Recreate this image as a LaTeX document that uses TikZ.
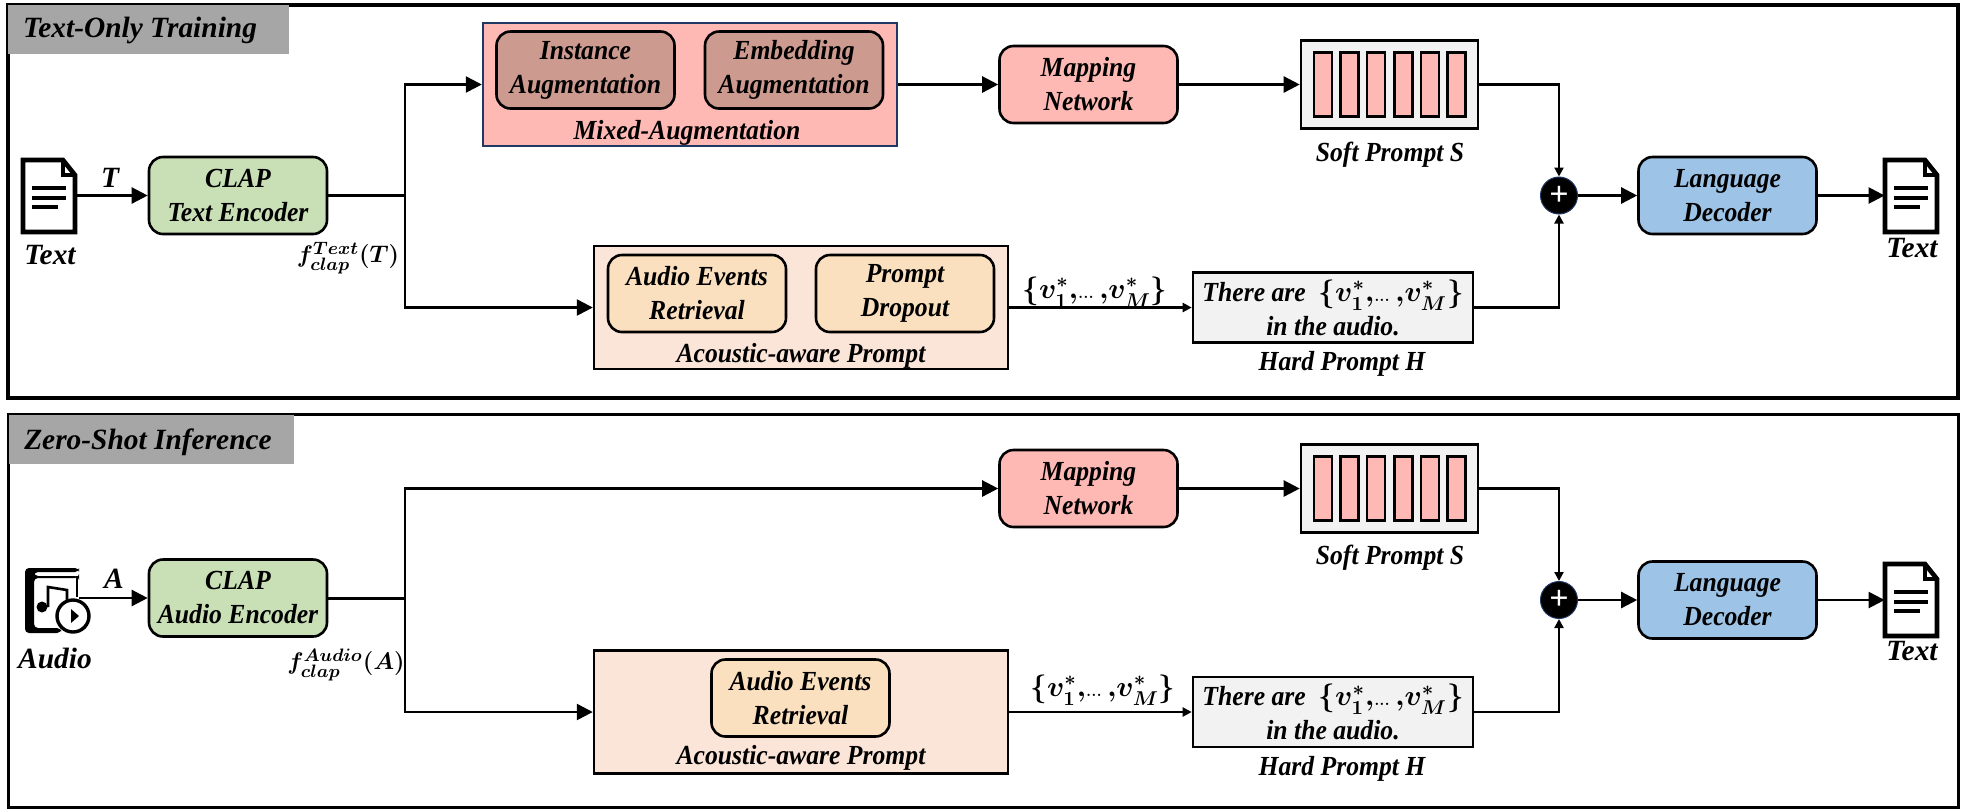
\documentclass[tikz,border=0pt]{standalone}
\usepackage{amsmath}
\usepackage{amssymb}
\usepackage{fontspec}
\setmainfont{Liberation Serif}
\newfontfamily\narrowserif{Liberation Serif}[FakeStretch=0.93]
\usepackage{tikz}
\usetikzlibrary{arrows.meta}
\definecolor{panelgray}{HTML}{A6A6A6}
\definecolor{clapgreen}{HTML}{C9E0B7}
\definecolor{mappink}{HTML}{FFB9B5}
\definecolor{augbrown}{HTML}{CC9A8E}
\definecolor{deepnavy}{HTML}{1F3864}
\definecolor{promptpeach}{HTML}{FBE5D8}
\definecolor{eventorange}{HTML}{FBE0BF}
\definecolor{softgray}{HTML}{F2F2F2}
\definecolor{decoderblue}{HTML}{9DC3E6}
\newcommand{\vset}{\{v_1^*,\!{\scriptscriptstyle\ldots}\,,\!v_M^*\}}

\begin{document}
\begin{tikzpicture}
[x=0.5pt,y=-0.5pt,
 lab/.style={font=\fontsize{13.8}{17}\narrowserif\selectfont\bfseries\itshape\boldmath,align=center,inner sep=0pt},
 flab/.style={lab,font=\fontsize{12.4}{15}\selectfont\bfseries\itshape\boldmath},
 titletext/.style={lab,font=\fontsize{14.7}{17}\selectfont\bfseries\itshape},
 panel/.style={draw=black,line width=1.7pt,minimum width=975pt,minimum height=196.5pt,inner sep=0pt},
 titlebox/.style={fill=panelgray,minimum height=24.5pt,inner sep=0pt},
 block/.style={lab,draw=black,line width=1.3pt,rounded corners=7pt,minimum width=89pt,minimum height=38.5pt},
 mapbox/.style={block,fill=mappink},
 clapbox/.style={block,fill=clapgreen},
 decbox/.style={block,fill=decoderblue},
 augbox/.style={block,fill=augbrown},
 eventbox/.style={block,fill=eventorange},
 groupbox/.style={draw=black,line width=1.2pt,minimum width=207pt,minimum height=61.5pt,inner sep=0pt},
 softbox/.style={draw=black,line width=1.3pt,fill=softgray,minimum width=88.5pt,minimum height=44pt,inner sep=0pt},
 hardbox/.style={lab,draw=black,line width=1.3pt,fill=softgray,minimum width=140pt,minimum height=35pt},
 bar/.style={draw=black,line width=1.2pt,fill=mappink,minimum width=9pt,minimum height=32pt,inner sep=0pt},
 plusnode/.style={circle,fill=black,draw=deepnavy,line width=0.5pt,minimum size=18.5pt,inner sep=0pt,
   text=white,font=\fontsize{17}{17}\selectfont\bfseries},
 iconbox/.style={minimum width=26pt,minimum height=36pt,inner sep=0pt},
 wire/.style={line width=1.2pt,-{Triangle[length=8pt,width=8pt]}},
 thinwire/.style={line width=1.1pt,-{Triangle[length=4.5pt,width=4.5pt]}},
 docicon/.pic={
   \draw[line width=2.3pt,fill=white,miter limit=2] (0,0) -- (40,0) -- (52,15) -- (52,72) -- (0,72) -- cycle;
   \draw[line width=1.6pt] (40,0) -- (40,15) -- (52,15);
   \draw[line width=2pt] (9,28) -- (43,28);
   \draw[line width=2pt] (9,38) -- (43,38);
   \draw[line width=2pt] (9,47) -- (35,47);
 },
 audioicon/.pic={
   \fill[rounded corners=2pt] (0,1) -- (54,1) -- (54,5) -- (9,5) -- (9,9) -- (54,9) -- (54,11) -- (9,11) -- (9,61) -- (36,61) -- (36,66) -- (0,66) -- cycle;
   \draw[line width=1.2pt] (52,9) -- (52,30);
   \fill (17,40) circle (5.5);
   \draw[line width=1.3pt] (23,40) -- (23,20) -- (42,23) -- (42,33);
   \draw[line width=1.7pt,fill=white] (48,49) circle (16);
   \fill (46,42) -- (46,56) -- (54,49) -- cycle;
 }]

% training panel
\node[panel] (panel1) at (983,201.5) {};
\node[titlebox,minimum width=140.5pt] (title1) at (148.5,29.5) {};
\node[titletext] (titletext1) at (140,30) {Text-Only Training};

\node[iconbox] (doc1) at (49,195.5) {};
\pic at (23,160) {docicon};
\node[titletext] (doclabel1) at (50,255) {Text};
\node[clapbox] (clap1) at (238,195.5) {CLAP\\Text Encoder};
\node[titletext] (tlabel) at (110,178) {T};
\node[flab] (flabel1) at (348,258) {$f^{Text}_{clap}(T)$};
\coordinate (jun1) at (405,195.5);

\node[groupbox,fill=mappink,draw=deepnavy] (mix1) at (690,84.5) {};
\node[augbox] (inst1) at (585.5,70) {Instance\\Augmentation};
\node[augbox] (embed1) at (794,70) {Embedding\\Augmentation};
\node[lab] (mixlabel1) at (687,133) {Mixed-Augmentation};

\node[groupbox,fill=promptpeach] (prompt1) at (801,307.5) {};
\node[eventbox] (event1) at (697,293.5) {Audio Events\\Retrieval};
\node[eventbox] (drop1) at (905,293.5) {Prompt\\Dropout};
\node[lab] (promptlabel1) at (801,356) {Acoustic-aware Prompt};

\node[mapbox] (map1) at (1088.5,84.5) {Mapping\\Network};
\node[softbox] (soft1) at (1389.5,84.5) {};
\node[bar] (b11) at (1323,84.5) {};
\node[bar] (b12) at (1349.5,84.5) {};
\node[bar] (b13) at (1376,84.5) {};
\node[bar] (b14) at (1403.5,84.5) {};
\node[bar] (b15) at (1430,84.5) {};
\node[bar] (b16) at (1456.5,84.5) {};
\node[lab] (softlabel1) at (1390,155) {Soft Prompt S};

\node[lab] (vlabel1) at (1095,292) {$\vset$};
\node[hardbox] (hard1) at (1333,307.5) {There are~~$\vset$\\in the audio.};
\node[lab] (hardlabel1) at (1342,364) {Hard Prompt H};

\node[plusnode] (plus1) at (1559,195.5) {+};
\node[decbox] (dec1) at (1727.5,195.5) {Language\\Decoder};
\node[iconbox] (doc2) at (1911,195.5) {};
\pic at (1885,160) {docicon};
\node[titletext] (doclabel2) at (1912,248) {Text};

\draw [wire] (doc1) -- (clap1);
\draw [line width=1.5pt] (clap1) -- (jun1);
\draw [wire] (jun1) |- (mix1);
\draw [wire] (jun1) |- (prompt1);
\draw [wire] (mix1) -- (map1);
\draw [wire] (map1) -- (soft1);
\draw [thinwire] (soft1) -| (plus1);
\draw [thinwire] (prompt1) -- (hard1);
\draw [thinwire] (hard1) -| (plus1);
\draw [wire] (plus1) -- (dec1);
\draw [wire] (dec1) -- (doc2);

% inference panel
\node[panel] (panel2) at (983.5,611) {};
\node[titlebox,minimum width=142.5pt] (title2) at (151.5,439) {};
\node[titletext] (titletext2) at (148,442) {Zero-Shot Inference};

\node[iconbox,minimum width=27pt,minimum height=34pt] (audio2) at (52,598) {};
\pic at (25,567) {audioicon};
\node[titletext] (audiolabel2) at (55,658) {Audio};
\node[clapbox] (clap2) at (238,598) {CLAP\\Audio Encoder};
\node[titletext] (alabel) at (114,579) {A};
\node[flab] (flabel2) at (346,665) {$f^{Audio}_{clap}(A)$};
\coordinate (jun2) at (405,598);

\node[groupbox,fill=promptpeach] (prompt2) at (801,712) {};
\node[eventbox] (event2) at (800.5,698) {Audio Events\\Retrieval};
\node[lab] (promptlabel2) at (801,758) {Acoustic-aware Prompt};

\node[mapbox] (map2) at (1088.5,488.5) {Mapping\\Network};
\node[softbox] (soft2) at (1389.5,488.5) {};
\node[bar] (b21) at (1323,488.5) {};
\node[bar] (b22) at (1349.5,488.5) {};
\node[bar] (b23) at (1376,488.5) {};
\node[bar] (b24) at (1403.5,488.5) {};
\node[bar] (b25) at (1430,488.5) {};
\node[bar] (b26) at (1456.5,488.5) {};
\node[lab] (softlabel2) at (1390,558) {Soft Prompt S};

\node[lab] (vlabel2) at (1103,690) {$\vset$};
\node[hardbox] (hard2) at (1333,712) {There are~~$\vset$\\in the audio.};
\node[lab] (hardlabel2) at (1342,769) {Hard Prompt H};

\node[plusnode] (plus2) at (1559,600) {+};
\node[decbox] (dec2) at (1727.5,600) {Language\\Decoder};
\node[iconbox] (doc3) at (1911,600) {};
\pic at (1885,564) {docicon};
\node[titletext] (doclabel3) at (1912,651) {Text};

\draw [wire] (audio2) -- (clap2);
\draw [line width=1.5pt] (clap2) -- (jun2);
\draw [wire] (jun2) |- (map2);
\draw [wire] (jun2) |- (prompt2);
\draw [wire] (map2) -- (soft2);
\draw [thinwire] (soft2) -| (plus2);
\draw [thinwire] (prompt2) -- (hard2);
\draw [thinwire] (hard2) -| (plus2);
\draw [wire] (plus2) -- (dec2);
\draw [wire] (dec2) -- (doc3);

\useasboundingbox (0,0) rectangle (1961,811);
\end{tikzpicture}
\end{document}
